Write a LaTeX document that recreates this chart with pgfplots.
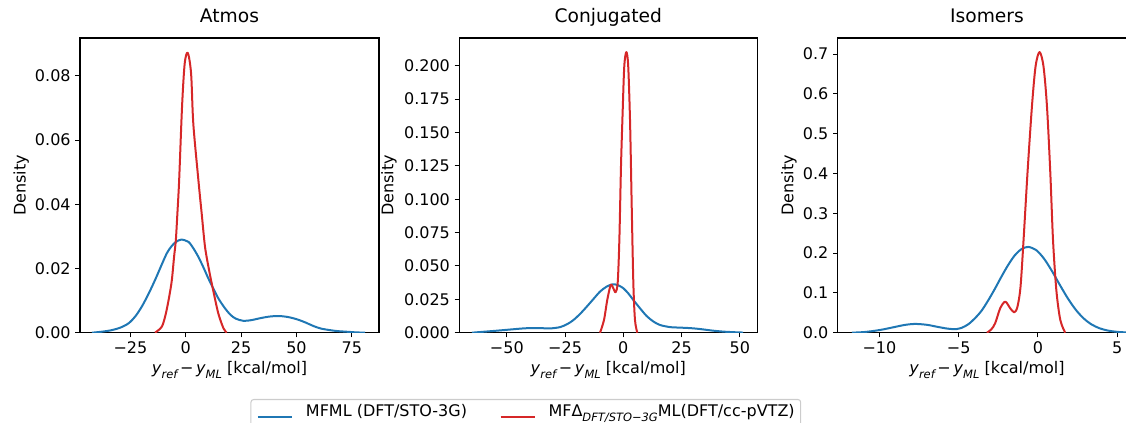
\documentclass[border=0pt]{standalone}
\usepackage{fontspec}
\setmainfont{DejaVu Sans}
\usepackage{pgfplots}
\pgfplotsset{compat=1.18}
\definecolor{tabblue}{HTML}{1F77B4}
\definecolor{tabred}{HTML}{D62728}
\definecolor{legframe}{HTML}{CCCCCC}

\newcommand{\sub}[1]{\raisebox{-0.28em}{\fontsize{8.6}{10}\selectfont\itshape #1}}

\pgfplotsset{
  kde/.style={
    scale only axis, width=224.25pt, height=221.0pt, ymin=0,
    scaled y ticks=false, scaled x ticks=false,
    axis line style={black, line width=0.8pt},
    tick align=outside, tick pos=left,
    major tick length=3.5pt,
    tick style={black, line width=0.8pt},
    tick label style={font=\fontsize{12}{14}\selectfont},
    label style={font=\fontsize{12}{14}\selectfont},
    title style={font=\fontsize{14}{16}\selectfont, at={(axis description cs:0.5,1.027)}, anchor=base},
    xlabel={\textit{y}\sub{ref}\,−\,\textit{y}\sub{ML} [kcal/mol]},
    ylabel={Density},
    xlabel style={at={(axis description cs:0.5,-0.1266)}, anchor=center},
    clip=true,
  },
  bl/.style={tabblue, line width=1.5pt, smooth, line join=round},
  rd/.style={tabred, line width=1.5pt, smooth, line join=round},
}

\begin{document}
\begin{tikzpicture}
% ---------------- Atmos
\begin{axis}[kde, at={(60pt,67.725pt)}, anchor=south west,
  title={Atmos},
  xmin=-47.8, xmax=87.3, ymax=0.0918,
  xtick={-25,0,25,50,75}, xticklabels={−25,0,25,50,75},
  ytick={0,0.02,0.04,0.06,0.08}, yticklabels={0.00,0.02,0.04,0.06,0.08},
  ylabel style={at={(axis description cs:-0.197,0.5)}, anchor=center},
  legend columns=2,
  legend image code/.code={\draw[#1] (0pt,0pt) -- (25.5pt,0pt);},
  legend style={at={(axis description cs:0.570,-0.225)}, anchor=north west,
    draw=legframe, line width=0.8pt, rounded corners=2pt, fill=white,
    font=\fontsize{12}{14}\selectfont, inner xsep=4.5pt, inner ysep=4pt,
    nodes={inner sep=0pt, anchor=base west, text height=9pt, text depth=3pt},
    /tikz/every odd column/.append style={column sep=9.75pt},
    /tikz/every even column/.append style={column sep=24.4pt}},
]
\addplot[bl] coordinates {
(-42.4,0.0000) (-38,0.0003) (-33.4,0.0008) (-29.5,0.0016) (-25.9,0.0029)
(-22.9,0.0050) (-19.9,0.0081) (-16.9,0.0120) (-13.9,0.0164) (-11.2,0.0207)
(-8.6,0.0247) (-6.6,0.0268) (-4.6,0.0282) (-2.1,0.0290) (1.2,0.0283)
(3.5,0.0262) (5.7,0.0236) (8.0,0.0203) (10.2,0.0169) (12.5,0.0137)
(14.7,0.0107) (17.5,0.0078) (20.0,0.0057) (22.5,0.0044) (26.0,0.0037)
(29.5,0.0039) (33.5,0.0045) (37.5,0.0050) (41.8,0.0052) (46,0.0049)
(50.1,0.0042) (54,0.0032) (57.6,0.0021) (61,0.0013) (65.1,0.0008)
(68.5,0.0005) (72.7,0.0003) (77,0.0001) (81,0.0000)
};
\addlegendentry{MFML (DFT/STO-3G)}
\addplot[rd] coordinates {
(-13.9,0.0000) (-10.8,0.0019) (-9.0,0.0060) (-7.5,0.0112) (-6.3,0.0164)
(-5.3,0.0236) (-4.5,0.0288) (-3.8,0.0371) (-3.0,0.0475) (-1.7,0.0703)
(-0.5,0.0838) (0.9,0.0872) (2.4,0.0807) (3.4,0.0651) (5.7,0.0475)
(7.2,0.0370) (8.7,0.0267) (10.6,0.0192) (12.5,0.0128) (14.7,0.0060)
(17.0,0.0014) (18.5,0.0000)
};
\addlegendentry{MFΔ\sub{DFT/STO−3G}ML(DFT/cc-pVTZ)}
\end{axis}

% ---------------- Conjugated
\begin{axis}[kde, at={(344.475pt,67.725pt)}, anchor=south west,
  width=223.5pt,
  title={Conjugated},
  xmin=-70.4, xmax=57.5, ymax=0.2208,
  xtick={-50,-25,0,25,50}, xticklabels={−50,−25,0,25,50},
  ytick={0,0.025,0.05,0.075,0.1,0.125,0.15,0.175,0.2},
  yticklabels={0.000,0.025,0.050,0.075,0.100,0.125,0.150,0.175,0.200},
  ylabel style={at={(axis description cs:-0.236,0.5)}, anchor=center},
]
\addplot[bl] coordinates {
(-65,0.0000) (-60,0.0007) (-55.7,0.0013) (-51,0.0020) (-47.1,0.0026)
(-43,0.0032) (-39.3,0.0035) (-35,0.0034) (-31.4,0.0032) (-27.1,0.0042)
(-24,0.0065) (-21.4,0.0095) (-18.5,0.0142) (-15.7,0.0195) (-12.8,0.0253)
(-10.0,0.0308) (-7.2,0.0345) (-4.5,0.0363) (-2.2,0.0355) (0,0.0333)
(2.2,0.0293) (4.3,0.0245) (7.2,0.0182) (10.0,0.0125) (12.8,0.0085)
(15.7,0.0058) (20.0,0.0042) (24.3,0.0038) (28,0.0035) (31,0.0031)
(34.5,0.0024) (38.6,0.0015) (43,0.0008) (47.1,0.0004) (51.4,0.0001)
};
\addplot[rd] coordinates {
(-10.0,0.0000) (-8.3,0.0095) (-6.9,0.0245) (-5.4,0.0358) (-4.3,0.0333)
(-3.3,0.0303) (-2.4,0.0380) (-1.7,0.0700) (-1.0,0.1250) (-0.3,0.1650)
(0.4,0.1995) (1.3,0.2103) (2.1,0.1995) (2.9,0.1570) (3.6,0.0945)
(4.3,0.0370) (5.0,0.0095) (6.0,0.0000)
};
\end{axis}

% ---------------- Isomers
\begin{axis}[kde, at={(628.275pt,67.725pt)}, anchor=south west,
  width=223.9pt,
  title={Isomers},
  xmin=-12.63, xmax=6.2, ymax=0.7403,
  xtick={-10,-5,0,5}, xticklabels={−10,−5,0,5},
  ytick={0,0.1,0.2,0.3,0.4,0.5,0.6,0.7},
  yticklabels={0.0,0.1,0.2,0.3,0.4,0.5,0.6,0.7},
  ylabel style={at={(axis description cs:-0.163,0.5)}, anchor=center},
]
\addplot[bl] coordinates {
(-11.74,0.0000) (-11.0,0.0015) (-10.38,0.0043) (-9.8,0.0080) (-9.12,0.0136)
(-8.4,0.0195) (-7.75,0.0220) (-7.0,0.0198) (-6.38,0.0150) (-5.7,0.0102)
(-5.15,0.0088) (-4.82,0.0120) (-4.40,0.0210) (-3.98,0.0360) (-3.56,0.0550)
(-3.14,0.0810) (-2.72,0.1100) (-2.30,0.1410) (-1.88,0.1700) (-1.46,0.1944)
(-1.04,0.2100) (-0.62,0.2155) (-0.12,0.2078) (0.38,0.1862) (0.88,0.1551)
(1.38,0.1201) (1.88,0.0865) (2.38,0.0579) (2.88,0.0360) (3.38,0.0208)
(3.88,0.0112) (4.38,0.0056) (4.88,0.0026) (5.38,0.0011) (6.0,0.0002)
};
\addplot[rd] coordinates {
(-3.22,0.0000) (-2.95,0.0080) (-2.70,0.0236) (-2.38,0.0614) (-2.06,0.0780)
(-1.75,0.0614) (-1.50,0.0513) (-1.30,0.0640) (-1.10,0.1150) (-0.90,0.2380)
(-0.66,0.4010) (-0.38,0.5680) (-0.15,0.6690) (0.10,0.7050) (0.35,0.6690)
(0.57,0.5680) (0.78,0.4010) (0.95,0.2330) (1.16,0.1070) (1.41,0.0320)
(1.72,0.0000)
};
\end{axis}

\pgfresetboundingbox
\useasboundingbox (0,0) rectangle (844.5pt,317.25pt);
\end{tikzpicture}
\end{document}
